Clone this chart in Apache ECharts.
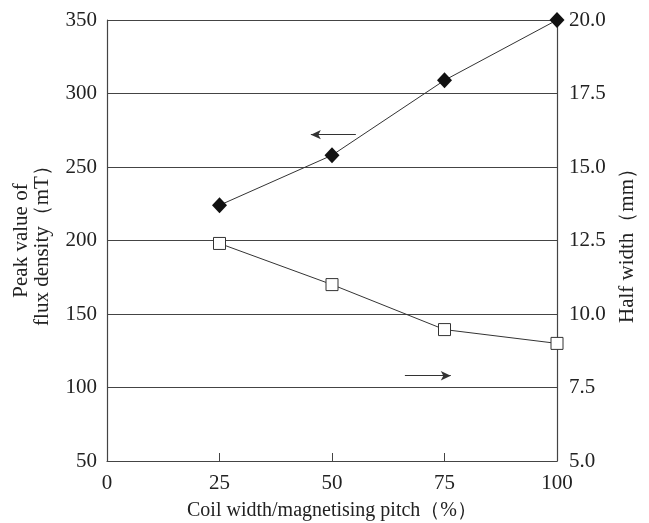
<!DOCTYPE html>
<html>
<head>
<meta charset="utf-8">
<script src="https://cdn.jsdelivr.net/npm/echarts@6/dist/echarts.min.js"></script>
<style>
  html, body { margin: 0; padding: 0; background: #fff; }
  #chart { width: 649px; height: 523px; }
</style>
</head>
<body>
<div id="chart"></div>
<script>
// coil width / magnetising pitch (%)
const pitch = [25, 50, 75, 100];
// peak value of flux density (mT), left axis
const peakFlux = [224, 258, 309, 350];
// half width (mm), right axis
const halfWidth = [12.4, 11.0, 9.47, 9.0];

// arrows telling which axis each curve belongs to
const leftArrow = [[55.3, 272], [45.3, 272]];
const rightArrow = [[66.2, 108], [76.4, 108]];

const font = "Liberation Serif";
const ink = "#222";

const chart = echarts.init(document.getElementById("chart"));

function arrowLine(pts) {
  return {
    silent: true,
    animation: false,
    symbol: ["none", "arrow"],
    symbolSize: [7, 10],
    label: { show: false },
    lineStyle: { color: "#333", width: 1, type: "solid" },
    data: [[{ coord: pts[0] }, { coord: pts[1] }]],
  };
}

const option = {
  animation: false,
  grid: { left: 107, right: 92, top: 20, bottom: 62, outerBoundsMode: "none", containLabel: false },
  xAxis: {
    type: "value",
    min: 0,
    max: 100,
    interval: 25,
    name: "Coil width/magnetising pitch（%）",
    nameLocation: "middle",
    nameGap: 40,
    nameTextStyle: { fontFamily: font, fontSize: 20, color: ink },
    axisLine: { lineStyle: { color: "#444", width: 1.2 } },
    axisTick: { inside: true, length: 8, lineStyle: { color: "#444" } },
    axisLabel: { fontFamily: font, fontSize: 21, color: ink, margin: 12 },
    splitLine: { show: false },
  },
  yAxis: [
    {
      type: "value",
      min: 50,
      max: 350,
      interval: 50,
      name: "Peak value of\nflux density（mT）",
      nameLocation: "middle",
      nameRotate: 90,
      nameGap: 54,
      nameTextStyle: { fontFamily: font, fontSize: 21, color: ink, lineHeight: 21 },
      axisLine: { show: true, lineStyle: { color: "#444", width: 1.2 } },
      axisTick: { show: false },
      axisLabel: { fontFamily: font, fontSize: 21, color: ink, margin: 10 },
      splitLine: { show: true, lineStyle: { color: "#444", width: 1.2 } },
    },
    {
      type: "value",
      min: 5,
      max: 20,
      interval: 2.5,
      name: "Half width（mm）",
      nameLocation: "middle",
      nameRotate: 90,
      nameGap: 56,
      nameTextStyle: { fontFamily: font, fontSize: 21, color: ink },
      axisLine: { show: true, lineStyle: { color: "#444", width: 1.2 } },
      axisTick: { show: false },
      axisLabel: {
        fontFamily: font,
        fontSize: 21,
        color: ink,
        margin: 12,
        formatter: (v) => v.toFixed(1),
      },
      splitLine: { show: false },
    },
  ],
  series: [
    {
      name: "Peak value",
      type: "line",
      yAxisIndex: 0,
      data: pitch.map((x, i) => [x, peakFlux[i]]),
      symbol: "diamond",
      symbolSize: [15, 16],
      itemStyle: { color: "#111" },
      lineStyle: { color: "#333", width: 1 },
      markLine: arrowLine(leftArrow),
      z: 3,
    },
    {
      name: "Half width",
      type: "line",
      yAxisIndex: 1,
      data: pitch.map((x, i) => [x, halfWidth[i]]),
      symbol: "rect",
      symbolSize: 12,
      itemStyle: { color: "#fff", borderColor: "#333", borderWidth: 1 },
      lineStyle: { color: "#333", width: 1 },
      z: 3,
    },
    {
      type: "line",
      yAxisIndex: 0,
      data: [],
      markLine: arrowLine(rightArrow),
    },
  ],
};

chart.setOption(option);
</script>
</body>
</html>
